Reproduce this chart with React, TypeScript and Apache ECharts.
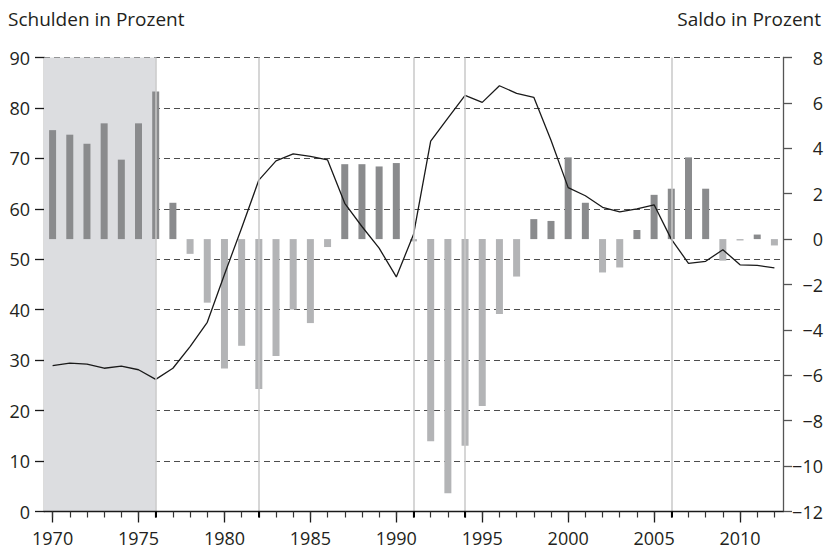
import React, { useEffect, useRef } from "react";
import * as echarts from "echarts";

const years = [
  "1970", "1971", "1972", "1973", "1974", "1975", "1976", "1977", "1978", "1979",
  "1980", "1981", "1982", "1983", "1984", "1985", "1986", "1987", "1988", "1989",
  "1990", "1991", "1992", "1993", "1994", "1995", "1996", "1997", "1998", "1999",
  "2000", "2001", "2002", "2003", "2004", "2005", "2006", "2007", "2008", "2009",
  "2010", "2011", "2012",
];

// Saldo in Prozent (right axis)
const saldo = [
  4.8, 4.6, 4.2, 5.1, 3.5, 5.1, 6.5, 1.6, -0.65, -2.8,
  -5.7, -4.7, -6.6, -5.15, -3.1, -3.7, -0.35, 3.3, 3.3, 3.2,
  3.35, -0.1, -8.9, -11.2, -9.1, -7.35, -3.3, -1.65, 0.88, 0.8,
  3.6, 1.6, -1.47, -1.25, 0.4, 1.95, 2.22, 3.6, 2.22, -0.95,
  -0.06, 0.2, -0.28,
];

// Schulden in Prozent (left axis)
const schulden = [
  28.9, 29.4, 29.2, 28.4, 28.8, 28.1, 26.2, 28.4, 32.7, 37.5,
  47.0, 56.2, 65.7, 69.5, 70.9, 70.4, 69.7, 61.1, 56.5, 52.2,
  46.5, 54.9, 73.4, 78.0, 82.5, 81.1, 84.4, 82.9, 82.1, 73.6,
  64.2, 62.6, 60.3, 59.4, 60.0, 60.8, 54.0, 49.2, 49.6, 51.9,
  48.9, 48.8, 48.3,
];

const shadedRange = [1969.5, 1976];
const markerYears = [1976, 1982, 1991, 1994, 2006];

const leftTitle = "Schulden in Prozent";
const rightTitle = "Saldo in Prozent";

const FONT = "'Open Sans', 'Noto Sans', sans-serif";
const TEXT = "#231f20";

export default function App() {
  const ref = useRef<HTMLDivElement>(null);
  useEffect(() => {
    if (!ref.current) return;
    const chart = echarts.init(ref.current, null, { renderer: "svg" });
    const markerSet = new Set(markerYears.map(String));
    chart.setOption({
      animation: false,
      backgroundColor: "#ffffff",
      textStyle: { fontFamily: FONT, color: TEXT },
      grid: { left: 44, right: 43, top: 57.5, bottom: 39.5, containLabel: false },
      graphic: [
        {
          type: "text",
          left: 8,
          top: 9,
          style: { text: leftTitle, fontSize: 19, fontFamily: FONT, fill: TEXT },
        },
        {
          type: "text",
          right: 5,
          top: 9,
          style: { text: rightTitle, fontSize: 19, fontFamily: FONT, fill: TEXT },
        },
      ],
      xAxis: [
        {
          type: "category",
          data: years,
          position: "bottom",
          boundaryGap: true,
          axisLine: { show: true, onZero: false, lineStyle: { color: "#1a1a1a", width: 1.3 } },
          axisTick: {
            show: true,
            alignWithLabel: true,
            length: 11,
            interval: (i: number) => i % 5 === 0,
            lineStyle: { color: "#1a1a1a", width: 1.3 },
          },
          axisLabel: {
            interval: 4,
            margin: 17,
            fontSize: 18,
            fontFamily: FONT,
            color: TEXT,
          },
          splitLine: { show: false },
          z: 5,
        },
        {
          type: "category",
          data: years,
          position: "bottom",
          boundaryGap: true,
          axisLine: { show: false, onZero: false },
          axisTick: {
            show: true,
            alignWithLabel: true,
            length: 6,
            interval: 0,
            lineStyle: { color: "#333333", width: 1.2 },
          },
          axisLabel: { show: false },
          splitLine: { show: false },
          z: 5,
        },
        {
          type: "category",
          data: years,
          position: "bottom",
          boundaryGap: true,
          axisLine: { show: false, onZero: false },
          axisTick: {
            show: true,
            alignWithLabel: true,
            length: 6,
            interval: (_i: number, v: string) => markerSet.has(v),
            lineStyle: { color: "#000000", width: 2 },
          },
          axisLabel: { show: false },
          splitLine: { show: false },
          z: 5,
        },
        {
          type: "value",
          min: shadedRange[0],
          max: 2012.5,
          show: false,
          axisLine: { onZero: false },
          splitLine: { show: false },
        },
      ],
      yAxis: [
        {
          type: "value",
          min: 0,
          max: 90,
          interval: 10,
          position: "left",
          axisLine: { show: true, onZero: false, lineStyle: { color: "#1a1a1a", width: 1.3 } },
          axisTick: { show: true, inside: false, length: 9, lineStyle: { color: "#1a1a1a", width: 1.3 } },
          axisLabel: { margin: 14, fontSize: 18, fontFamily: FONT, color: TEXT },
          splitLine: {
            show: true,
            lineStyle: { color: "#4d4d4d", width: 1, type: [6, 4] },
          },
        },
        {
          type: "value",
          min: -12,
          max: 8,
          interval: 2,
          position: "right",
          axisLine: { show: true, onZero: false, lineStyle: { color: "#555555", width: 1.3 } },
          axisTick: { show: true, inside: false, length: 9, lineStyle: { color: "#555555", width: 1.3 } },
          axisLabel: {
            margin: 40,
            align: "right",
            fontSize: 18,
            fontFamily: FONT,
            color: TEXT,
            formatter: (v: number) => String(v).replace("-", "\u2212"),
          },
          splitLine: { show: false },
        },
      ],
      series: [
        {
          type: "line",
          xAxisIndex: 3,
          yAxisIndex: 0,
          data: [],
          silent: true,
          z: -1,
          markArea: {
            silent: true,
            itemStyle: { color: "#dcdde0" },
            data: [[{ xAxis: shadedRange[0] }, { xAxis: shadedRange[1] }]],
          },
        },
        {
          type: "bar",
          xAxisIndex: 0,
          yAxisIndex: 1,
          barWidth: 7,
          z: 2,
          data: saldo.map((v) => ({
            value: v,
            itemStyle: { color: v >= 0 ? "#8a8b8d" : "#b3b4b6" },
          })),
        },
        {
          type: "line",
          xAxisIndex: 3,
          yAxisIndex: 0,
          data: [],
          silent: true,
          z: 3,
          markLine: {
            silent: true,
            symbol: "none",
            label: { show: false },
            lineStyle: { color: "#c9c9c9", width: 1.5, type: "solid" },
            data: markerYears.map((y) => ({ xAxis: y })),
          },
        },
        {
          type: "line",
          xAxisIndex: 0,
          yAxisIndex: 0,
          data: schulden,
          symbol: "none",
          z: 4,
          lineStyle: { color: "#1a1a1a", width: 1.3 },
        },
      ],
    });
    return () => chart.dispose();
  }, []);
  return (
    <div
      ref={ref}
      style={{ position: "absolute", left: 0, top: 0, width: 826, height: 551 }}
    />
  );
}
